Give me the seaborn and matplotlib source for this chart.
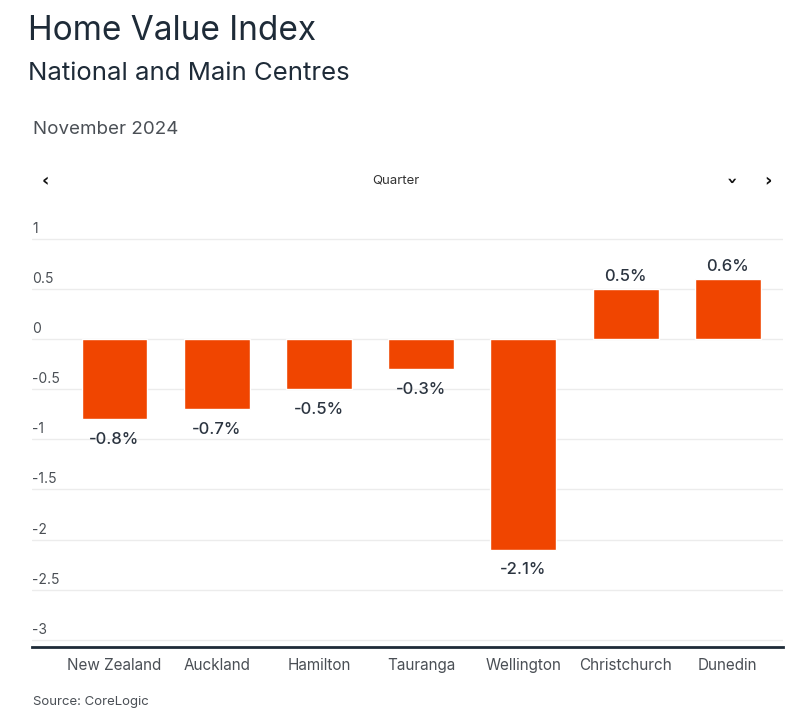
import matplotlib
matplotlib.use("Agg")
import matplotlib.pyplot as plt
import matplotlib.transforms as mtransforms
import seaborn as sns
import pandas as pd

# ---- data ----
categories = ["New Zealand", "Auckland", "Hamilton", "Tauranga", "Wellington", "Christchurch", "Dunedin"]
values = [-0.8, -0.7, -0.5, -0.3, -2.1, 0.5, 0.6]
bar_labels = ["-0.8%", "-0.7%", "-0.5%", "-0.3%", "-2.1%", "0.5%", "0.6%"]
y_ticks = [1, 0.5, 0, -0.5, -1, -1.5, -2, -2.5, -3]
y_tick_labels = ["1", "0.5", "0", "-0.5", "-1", "-1.5", "-2", "-2.5", "-3"]
title = "Home Value Index"
subtitle = "National and Main Centres"
period = "November 2024"
selector = "Quarter"
source = "Source: CoreLogic"

df = pd.DataFrame({"region": categories, "change": values})

sns.set_theme(style="white")
FONT = ["Inter", "DejaVu Sans"]
plt.rcParams["font.family"] = FONT

BAR = "#F04500"
DARK = "#1E2B38"
GRAY = "#4a4f55"

fig = plt.figure(figsize=(8.1, 7.27), dpi=100)
ax = fig.add_axes([32 / 810, (727 - 646.7) / 727, (783 - 32) / 810, (646.7 - 234) / 727])

sns.barplot(data=df, x="region", y="change", color=BAR, saturation=1, width=0.645, ax=ax, zorder=3)

ax.set_xlim(-0.807, 6.54)
ax.set_ylim(-3.07, 1.05)
ax.set_yticks(y_ticks)
ax.set_yticklabels([])
ax.tick_params(axis="y", length=0)
ax.grid(axis="y", color="#ececec", linewidth=1, zorder=0)
ax.grid(axis="x", visible=False)
for s in ["top", "right", "left"]:
    ax.spines[s].set_visible(False)
ax.spines["bottom"].set_color(DARK)
ax.spines["bottom"].set_linewidth(2.0)
ax.set_xlabel("")
ax.set_ylabel("")
ax.tick_params(axis="x", length=0, pad=8, labelsize=11, labelcolor=GRAY)

# y tick labels drawn above gridlines at left
trans = mtransforms.blended_transform_factory(ax.transAxes, ax.transData)
off = mtransforms.offset_copy(trans, fig=fig, x=0, y=3, units="dots")
for v, lab in zip(y_ticks, y_tick_labels):
    ax.text(0.0, v, lab, transform=off, ha="left", va="bottom", fontsize=10, color=GRAY)

# bar value labels
for i, (v, lab) in enumerate(zip(values, bar_labels)):
    if v >= 0:
        ax.annotate(lab, (i, v), xytext=(0, 4), textcoords="offset points",
                    ha="center", va="bottom", fontsize=12, color="#2b3440", fontweight="medium")
    else:
        ax.annotate(lab, (i, v), xytext=(0, -9), textcoords="offset points",
                    ha="center", va="top", fontsize=12, color="#2b3440", fontweight="medium")

# header texts
fig.text(28 / 810, 1 - 31 / 727, title, fontsize=24, color=DARK, ha="left", va="center")
fig.text(28 / 810, 1 - 74 / 727, subtitle, fontsize=18.5, color=DARK, ha="left", va="center")
fig.text(33 / 810, 1 - 130 / 727, period, fontsize=13.5, color=GRAY, ha="left", va="center")
fig.text(45 / 810, 1 - 181 / 727, "‹", fontsize=13, color="#111", ha="center", va="center",
         fontweight="bold", family="DejaVu Sans")
fig.text(396 / 810, 1 - 181 / 727, selector, fontsize=9.5, color="#333", ha="center", va="center")
fig.text(729 / 810, 1 - 181 / 727, "›", fontsize=13, color="#111", ha="center", va="center",
         fontweight="bold", rotation=-90, family="DejaVu Sans")
fig.text(768 / 810, 1 - 181 / 727, "›", fontsize=13, color="#111", ha="center", va="center",
         fontweight="bold", family="DejaVu Sans")
fig.text(33 / 810, 1 - 702 / 727, source, fontsize=9.5, color=GRAY, ha="left", va="center")

fig.savefig("out.png", dpi=100, facecolor="white")
